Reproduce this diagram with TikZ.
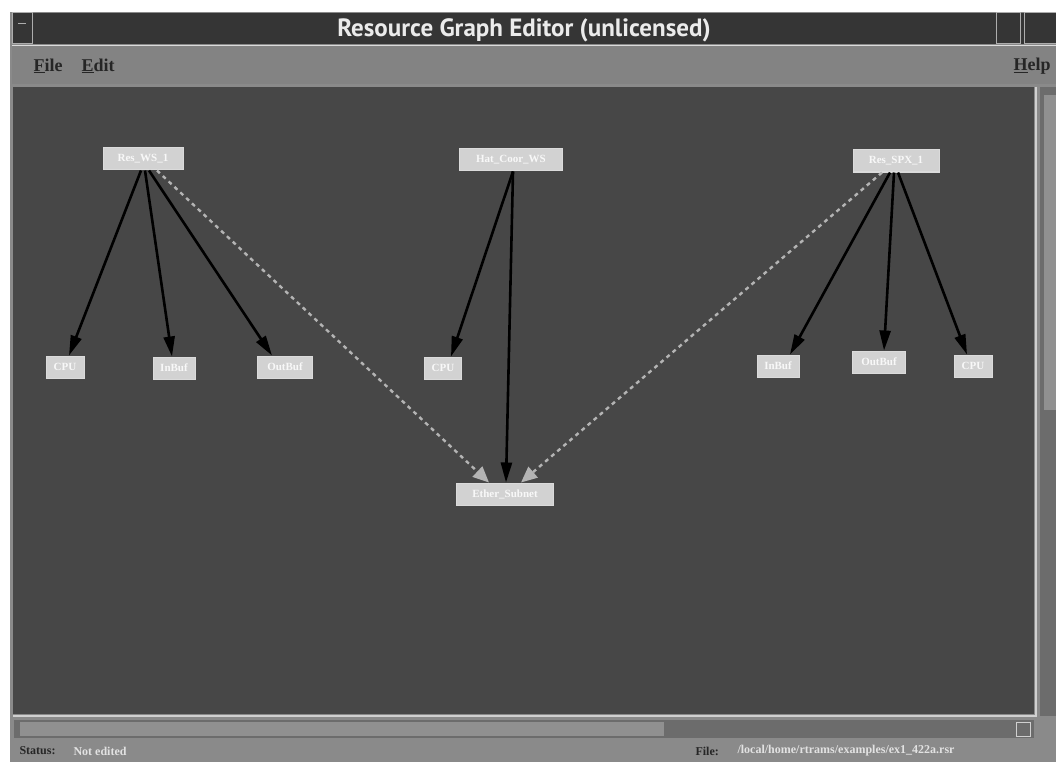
\documentclass[tikz,border=0pt]{standalone}
\usepackage{fontspec}
\setmainfont{Liberation Serif}
\newfontfamily\titlefont{PT Sans}
\usetikzlibrary{arrows.meta}
\definecolor{canvas}{HTML}{474747}
\definecolor{frame}{HTML}{8A8A8A}
\definecolor{titlebg}{HTML}{353535}
\definecolor{boxfill}{HTML}{D2D2D2}
\definecolor{boxtext}{HTML}{F8F8F8}
\definecolor{dashcol}{HTML}{B4B4B4}
\definecolor{trough}{HTML}{6C6C6C}
\definecolor{thumb}{HTML}{909090}
\tikzset{
  res/.style={draw=boxfill!80!white, line width=1pt, fill=boxfill, text=boxtext, inner sep=0pt,
    minimum height=22pt, font=\fontsize{11}{11}\selectfont\bfseries},
  uses/.style={draw=black, line width=2.6pt, -{Triangle[length=20pt,width=11pt]}},
  links/.style={draw=dashcol, line width=2.4pt, dash pattern=on 4pt off 4pt,
    -{Triangle[length=16pt,width=14pt,fill=dashcol]}},
  menu/.style={font=\fontsize{18}{18}\selectfont\bfseries, text=black!85, anchor=west},
  status/.style={font=\fontsize{12}{12}\selectfont\bfseries, anchor=west}
}
\begin{document}
\begin{tikzpicture}[x=1pt,y=-1pt]
\useasboundingbox (0,0) rectangle (1056,762);
\fill[white] (0,0) rectangle (1056,762);
% window frame
\fill[frame] (10,12) rectangle (1056,762);
% title bar
\fill[titlebg] (12,13) rectangle (1056,44);
\draw[frame!70!white, line width=1pt] (12,13) rectangle (32,44);
\draw[frame!70!white, line width=1pt] (18,24) -- (26,24);
\draw[frame!70!white, line width=1pt] (996,13) rectangle (1020,44);
\draw[frame!70!white, line width=1pt] (1024,13) rectangle (1056,44);
\node[font=\titlefont\fontsize{25}{25}\selectfont\bfseries, text=white!92!black] (title) at (524,30) {Resource Graph Editor (unlicensed)};
% menu bar
\fill[frame!95!black] (12,46) rectangle (1056,84);
\draw[white!70!frame, line width=1pt] (12,46) -- (1056,46);
\node[menu] (mfile) at (30,66) {\underline{F}ile};
\node[menu] (medit) at (78,66) {\underline{E}dit};
\node[menu] (mhelp) at (1010,66) {\underline{H}elp};
% canvas
\fill[canvas] (13,87) rectangle (1034,714);
\draw[white!60!frame, line width=1.5pt] (1036,87) -- (1036,716) -- (13,716);
% vertical scrollbar
\fill[trough] (1040,87) rectangle (1056,716);
\fill[thumb] (1044,95) rectangle (1056,410);
% horizontal scrollbar
\fill[trough] (14,720) rectangle (1034,738);
\fill[thumb] (20,722) rectangle (664,736);
\draw[white!60!frame, line width=1pt] (1016,722) rectangle (1030,736);
% status line
\node[status, text=black!85] (stlabel) at (16,751) {Status:};
\node[status, text=white!75!frame] (stvalue) at (70,751) {Not edited};
\node[status, text=black!85] (fllabel) at (692,751) {File:};
\node[status, text=white!75!frame] (flvalue) at (734,751) {/local/home/rtrams/examples/ex1\_422a.rsr};

% resource nodes
\node[res, minimum width=80pt] (ws) at (143,159) {Res\_WS\_1};
\node[res, minimum width=103pt] (hc) at (511,160) {Hat\_Coor\_WS};
\node[res, minimum width=86pt] (spx) at (896,161) {Res\_SPX\_1};
\node[res, minimum width=38pt] (cpua) at (65,367) {CPU};
\node[res, minimum width=42pt] (inba) at (174,368) {InBuf};
\node[res, minimum width=55pt] (outa) at (285,367) {OutBuf};
\node[res, minimum width=37pt] (cpub) at (443,368) {CPU};
\node[res, minimum width=42pt] (inbc) at (778,366) {InBuf};
\node[res, minimum width=53pt] (outc) at (879,362) {OutBuf};
\node[res, minimum width=38pt] (cpuc) at (973,366) {CPU};
\node[res, minimum width=97pt] (eth) at (505,494) {Ether\_Subnet};

% dependencies
\draw[links] ([xshift=14pt]ws.south) -- ([xshift=-16pt]eth.north);
\draw[links] ([xshift=-14pt]spx.south) -- ([xshift=16pt]eth.north);
\draw[uses] ([xshift=-2pt]ws.south) -- ([xshift=4pt]cpua.north);
\draw[uses] ([xshift=2pt]ws.south) -- ([xshift=-2pt]inba.north);
\draw[uses] ([xshift=6pt]ws.south) -- ([xshift=-13pt]outa.north);
\draw[uses] ([xshift=2pt]hc.south) -- ([xshift=8pt]cpub.north);
\draw[uses] ([xshift=2pt]hc.south) -- ([xshift=1pt]eth.north);
\draw[uses] ([xshift=-6pt]spx.south) -- ([xshift=12pt]inbc.north);
\draw[uses] ([xshift=-2pt]spx.south) -- ([xshift=5pt]outc.north);
\draw[uses] ([xshift=2pt]spx.south) -- ([xshift=-6pt]cpuc.north);
\end{tikzpicture}
\end{document}
